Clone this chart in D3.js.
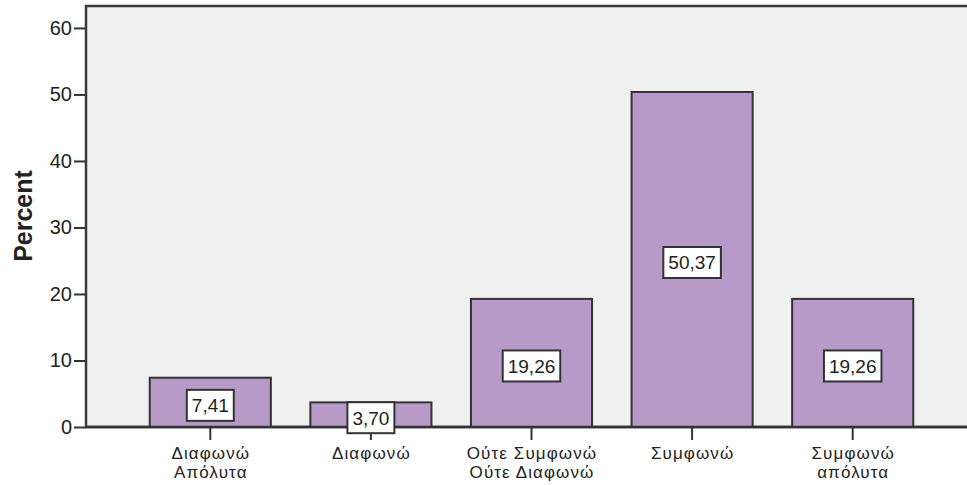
<!DOCTYPE html>
<html>
<head>
<meta charset="utf-8">
<script src="https://cdn.jsdelivr.net/npm/d3@7"></script>
<style>
  body { margin: 0; background: #fff; }
  text { font-family: "Liberation Sans", Arial, sans-serif; fill: #222; }
</style>
</head>
<body>
<div id="chart"></div>
<script>
const width = 967;
const height = 485;

// data
const categories = ["Διαφωνώ\nΑπόλυτα", "Διαφωνώ", "Ούτε Συμφωνώ\nΟύτε Διαφωνώ", "Συμφωνώ", "Συμφωνώ\nαπόλυτα"];
const percents = [7.41, 3.70, 19.26, 50.37, 19.26];
const yTicks = [0, 10, 20, 30, 40, 50, 60];

const plot = { left: 86, top: 6, bottom: 427, right: 975 };

const svg = d3.select("#chart")
    .append("svg")
    .attr("width", width)
    .attr("height", height);

const y = d3.scaleLinear()
    .domain([0, 63.3])
    .range([plot.bottom, plot.top]);

const x = d3.scaleBand()
    .domain(categories)
    .range([130, 933])
    .paddingInner(0.246)
    .paddingOuter(0.123);

// plot background + frame
svg.append("rect")
    .attr("x", plot.left)
    .attr("y", plot.top)
    .attr("width", plot.right - plot.left)
    .attr("height", plot.bottom - plot.top)
    .attr("fill", "#f0f0f0")
    .attr("stroke", "#3a3a3a")
    .attr("stroke-width", 2.5);

// bars
const data = categories.map((c, i) => ({ cat: c, value: percents[i] }));

svg.selectAll(".bar")
    .data(data)
    .enter()
    .append("rect")
    .attr("class", "bar")
    .attr("x", d => x(d.cat))
    .attr("y", d => y(d.value))
    .attr("width", x.bandwidth())
    .attr("height", d => y(0) - y(d.value))
    .attr("fill", "#b89ac9")
    .attr("stroke", "#333")
    .attr("stroke-width", 2);

// y axis
const yAxis = svg.append("g")
    .attr("transform", `translate(${plot.left},0)`)
    .call(d3.axisLeft(y).tickValues(yTicks).tickSize(12).tickSizeOuter(0).tickPadding(2).tickFormat(d3.format("d")));
yAxis.select(".domain").remove();
yAxis.selectAll("line").attr("stroke", "#333").attr("stroke-width", 2);
yAxis.selectAll("text").style("font-size", "20px").attr("fill", "#222");

// x axis
const xAxis = svg.append("g")
    .attr("transform", `translate(0,${plot.bottom})`)
    .call(d3.axisBottom(x).tickSize(13).tickSizeOuter(0).tickFormat(""));
xAxis.select(".domain").remove();
xAxis.selectAll("line").attr("stroke", "#333").attr("stroke-width", 2);

svg.append("line")
    .attr("x1", plot.left).attr("x2", width)
    .attr("y1", plot.bottom).attr("y2", plot.bottom)
    .attr("stroke", "#333")
    .attr("stroke-width", 2.5);

// category labels, one text per line
categories.forEach(c => {
    c.split("\n").forEach((line, i) => {
        svg.append("text")
            .attr("class", "cat")
            .attr("text-anchor", "middle")
            .style("font-size", "17px")
            .style("letter-spacing", "1.1px")
            .attr("x", x(c) + x.bandwidth() / 2 + 0.5)
            .attr("y", 459 + i * 19)
            .text(line);
    });
});

// y title
svg.append("text")
    .attr("transform", "translate(32,216) rotate(-90)")
    .attr("text-anchor", "middle")
    .style("font-size", "25px")
    .style("font-weight", "bold")
    .attr("fill", "#111")
    .text("Percent");

// value labels in white boxes
const fmt = v => d3.format(".2f")(v).replace(".", ",");
const labels = svg.selectAll(".val")
    .data(data)
    .enter()
    .append("g")
    .attr("class", "val")
    .attr("transform", d => `translate(${x(d.cat) + x.bandwidth() / 2},${(y(d.value) + y(0)) / 2 + 3})`);

labels.each(function(d) {
    const g = d3.select(this);
    const rect = g.append("rect");
    const t = g.append("text")
        .attr("text-anchor", "middle")
        .attr("dy", "0.36em")
        .style("font-size", "19px")
        .text(fmt(d.value));
    const bb = t.node().getBBox();
    const w = bb.width + 10;
    const h = 31;
    rect.attr("x", -w / 2)
        .attr("y", -h / 2)
        .attr("width", w)
        .attr("height", h)
        .attr("fill", "#fff")
        .attr("stroke", "#333")
        .attr("stroke-width", 2);
});
</script>
</body>
</html>
